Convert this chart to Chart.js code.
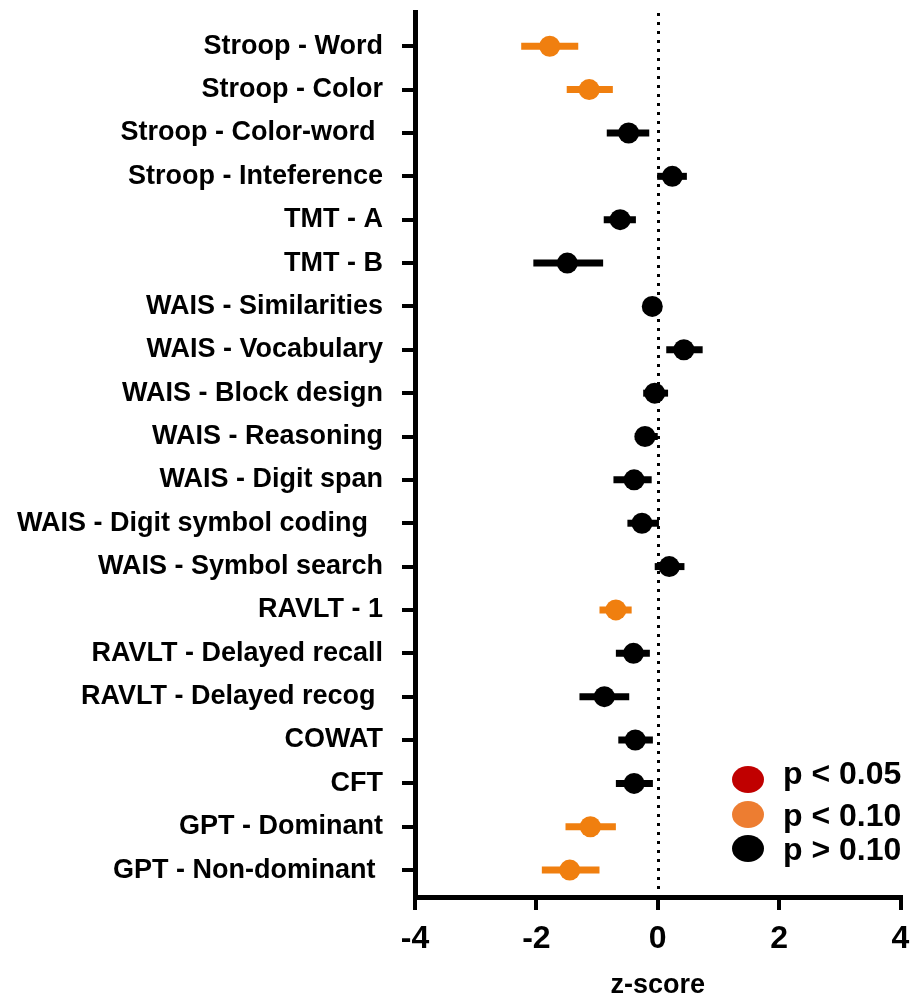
<!DOCTYPE html>
<html>
<head>
<meta charset="utf-8">
<script src="https://cdn.jsdelivr.net/npm/chart.js@4/dist/chart.umd.min.js"></script>
<style>
  html, body { margin: 0; padding: 0; background: #fff; }
  #wrap { position: relative; width: 911px; height: 999px; }
  canvas { position: absolute; left: 0; top: 0; }
  .lg { position: absolute; font: bold 32px 'Liberation Sans', Arial, sans-serif; color: #000; line-height: 32px; white-space: nowrap; }
  .dot { position: absolute; width: 32px; height: 27px; border-radius: 50%; }
</style>
</head>
<body>
<div id="wrap">
  <canvas id="c" width="911" height="999"></canvas>
  <div class="dot" style="left:732px;top:766px;background:#C00000"></div>
  <div class="lg" style="left:783px;top:757px">p &lt; 0.05</div>
  <div class="dot" style="left:732px;top:801px;background:#ED7D31"></div>
  <div class="lg" style="left:783px;top:799px">p &lt; 0.10</div>
  <div class="dot" style="left:732px;top:835px;background:#000000"></div>
  <div class="lg" style="left:783px;top:833px">p &gt; 0.10</div>
</div>
<script>
const tests = [
  "Stroop - Word", "Stroop - Color", "Stroop - Color-word ", "Stroop - Inteference",
  "TMT - A", "TMT - B", "WAIS - Similarities", "WAIS - Vocabulary",
  "WAIS - Block design", "WAIS - Reasoning", "WAIS - Digit span",
  "WAIS - Digit symbol coding  ", "WAIS - Symbol search", "RAVLT - 1",
  "RAVLT - Delayed recall", "RAVLT - Delayed recog ", "COWAT", "CFT",
  "GPT - Dominant", "GPT - Non-dominant "
];
const zScore = [-1.78, -1.13, -0.48, 0.24, -0.62, -1.49, -0.09, 0.43, -0.05, -0.21,
                -0.39, -0.26, 0.19, -0.69, -0.40, -0.88, -0.37, -0.39, -1.11, -1.45];
const ciLow  = [-2.25, -1.50, -0.84, -0.01, -0.89, -2.05, -0.24, 0.14, -0.24, -0.38,
                -0.73, -0.50, -0.05, -0.96, -0.69, -1.29, -0.65, -0.69, -1.52, -1.91];
const ciHigh = [-1.31, -0.74, -0.14, 0.48, -0.36, -0.90, 0.06, 0.74, 0.17, 0.00,
                -0.10, 0.02, 0.44, -0.43, -0.13, -0.47, -0.08, -0.08, -0.69, -0.96];
const significance = ["p<0.10", "p<0.10", "p>0.10", "p>0.10", "p>0.10", "p>0.10", "p>0.10",
                      "p>0.10", "p>0.10", "p>0.10", "p>0.10", "p>0.10", "p>0.10", "p<0.10",
                      "p>0.10", "p>0.10", "p>0.10", "p>0.10", "p<0.10", "p<0.10"];
const xTicks = [-4, -2, 0, 2, 4];

const colorOf = { "p<0.05": "#C00000", "p<0.10": "#F07F0F", "p>0.10": "#000000" };
const FONT = "'Liberation Sans', Arial, sans-serif";

const datasets = [{
  type: 'scatter',
  data: zScore.map((v, i) => ({ x: v, y: i })),
  pointRadius: 10.5,
  pointHoverRadius: 10.5,
  pointBorderWidth: 0,
  pointBackgroundColor: significance.map(s => colorOf[s]),
  order: 0,
  clip: false
}];
tests.forEach((t, i) => {
  datasets.push({
    type: 'line',
    data: [{ x: ciLow[i], y: i }, { x: ciHigh[i], y: i }],
    showLine: true,
    borderColor: colorOf[significance[i]],
    borderWidth: 7,
    borderCapStyle: 'butt',
    pointRadius: 0,
    order: 1,
    clip: false
  });
});

const zeroLine = {
  id: 'zeroLine',
  beforeDatasetsDraw(chart) {
    const { ctx, chartArea, scales } = chart;
    const x = Math.round(scales.x.getPixelForValue(0)) + 0.5;
    ctx.save();
    ctx.strokeStyle = '#000';
    ctx.lineWidth = 3;
    ctx.setLineDash([3, 6]);
    ctx.beginPath();
    ctx.moveTo(x, chartArea.top + 1);
    ctx.lineTo(x, chartArea.bottom);
    ctx.stroke();
    ctx.restore();
  }
};

new Chart(document.getElementById('c'), {
  type: 'scatter',
  data: { datasets },
  plugins: [zeroLine],
  options: {
    responsive: false,
    animation: false,
    events: [],
    layout: { padding: { top: 12, right: 7, left: 0, bottom: 0 } },
    plugins: { legend: { display: false }, tooltip: { enabled: false } },
    scales: {
      x: {
        type: 'linear', min: -4, max: 4,
        afterBuildTicks: s => { s.ticks = xTicks.map(v => ({ value: v })); },
        ticks: { color: '#000', font: { family: FONT, size: 32, weight: 'bold' }, padding: 10 },
        grid: { drawOnChartArea: false, tickLength: 13, lineWidth: 4, color: '#000' },
        border: { display: true, width: 5, color: '#000' },
        title: { display: true, text: 'z-score', color: '#000',
                 font: { family: FONT, size: 27, weight: 'bold', lineHeight: 1.0 }, padding: { top: 0, bottom: 0 } },
        afterFit: s => { s.height = 102; s.paddingLeft = 0; s.paddingRight = 0; }
      },
      y: {
        type: 'linear', reverse: true, min: -0.79, max: 19.62,
        afterBuildTicks: s => { s.ticks = tests.map((_, i) => ({ value: i })); },
        ticks: { autoSkip: false, color: '#000', font: { family: FONT, size: 27, weight: 'bold' },
                 padding: 19, callback: v => tests[v] },
        grid: { drawOnChartArea: false, tickLength: 13, lineWidth: 4, color: '#000' },
        border: { display: true, width: 5, color: '#000' },
        afterFit: s => { s.width = 415; s.paddingTop = 0; s.paddingBottom = 0; }
      }
    }
  }
});
</script>
</body>
</html>
